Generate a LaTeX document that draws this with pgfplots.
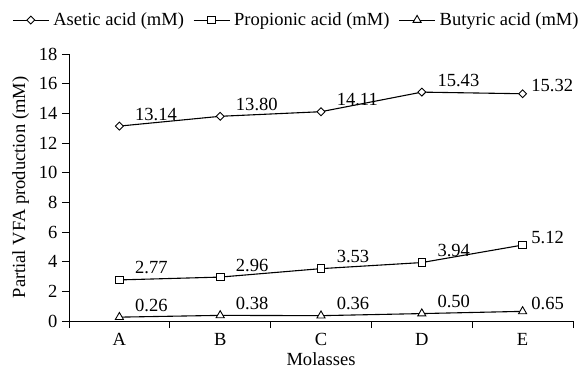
\documentclass[border=0pt]{standalone}
\usepackage{pgfplots}
\pgfplotsset{compat=1.18}
\usepackage{fontspec}
\setmainfont{Liberation Serif}
\begin{document}
\begin{tikzpicture}[font=\rmfamily]
\begin{axis}[
  name=ax,
  scale only axis,
  width=504bp, height=267bp,
  font=\rmfamily\fontsize{18.6}{21}\selectfont,
  /pgf/number format/assume math mode=true,
  xmin=-0.5, xmax=4.5,
  ymin=0, ymax=18,
  ytick={0,2,...,18},
  xtick={0,1,2,3,4},
  xticklabels={A,B,C,D,E},
  minor xtick={-0.5,0.5,1.5,2.5,3.5,4.5},
  major x tick style={draw=none},
  minor x tick style={draw=black, line width=1pt},
  ytick style={draw=black, line width=1pt},
  major tick length=7bp,
  minor tick length=7bp,
  tick align=outside,
  axis lines*=left,
  axis line style={line width=1pt, -},
  yticklabel style={xshift=-1bp},
  xticklabel style={yshift=-2bp},
  xlabel={Molasses},
  ylabel={Partial VFA production (mM)},
  xlabel style={yshift=0bp},
  ylabel style={yshift=3bp},
  every axis plot/.append style={line width=1.1pt, black},
  point meta=explicit symbolic,
  nodes near coords,
  every node near coord/.append style={anchor=west, xshift=12bp, yshift=12bp, font=\rmfamily\fontsize{18.6}{21}\selectfont},
  coordinate style/.condition={x>3.5}{xshift=-7bp, yshift=-4bp},
  legend columns=3,
  legend style={draw=none, fill=none, at={(-0.113,1.127)}, anchor=west, inner sep=0pt,
    nodes={inner sep=0pt},
    /tikz/every odd column/.append style={column sep=4bp},
    /tikz/every even column/.append style={column sep=9bp},
    font=\rmfamily\fontsize{18.6}{21}\selectfont},
  legend image code/.code={\draw[mark repeat=2,mark phase=2] plot coordinates {(0bp,0bp)(18bp,0bp)(36bp,0bp)};},
  clip=false,
]
\addplot[mark=square*, mark options={fill=white, rotate=45, line width=0.9pt}, mark size=2.8bp]
  coordinates {(0,13.14)[13.14] (1,13.80)[13.80] (2,14.11)[14.11] (3,15.43)[15.43] (4,15.32)[15.32]};
\addlegendentry{Asetic acid (mM)}
\addplot[mark=square*, mark options={fill=white, line width=0.9pt}, mark size=3.8bp]
  coordinates {(0,2.77)[2.77] (1,2.96)[2.96] (2,3.53)[3.53] (3,3.94)[3.94] (4,5.12)[5.12]};
\addlegendentry{Propionic acid (mM)}
\addplot[mark=triangle*, mark options={fill=white, line width=0.9pt}, mark size=4.7bp]
  coordinates {(0,0.26)[0.26] (1,0.38)[0.38] (2,0.36)[0.36] (3,0.50)[0.50] (4,0.65)[0.65]};
\addlegendentry{Butyric acid (mM)}
\end{axis}
\pgfresetboundingbox
\path[use as bounding box] (-69bp,-50bp) rectangle (509bp,321bp);
\end{tikzpicture}
\end{document}
